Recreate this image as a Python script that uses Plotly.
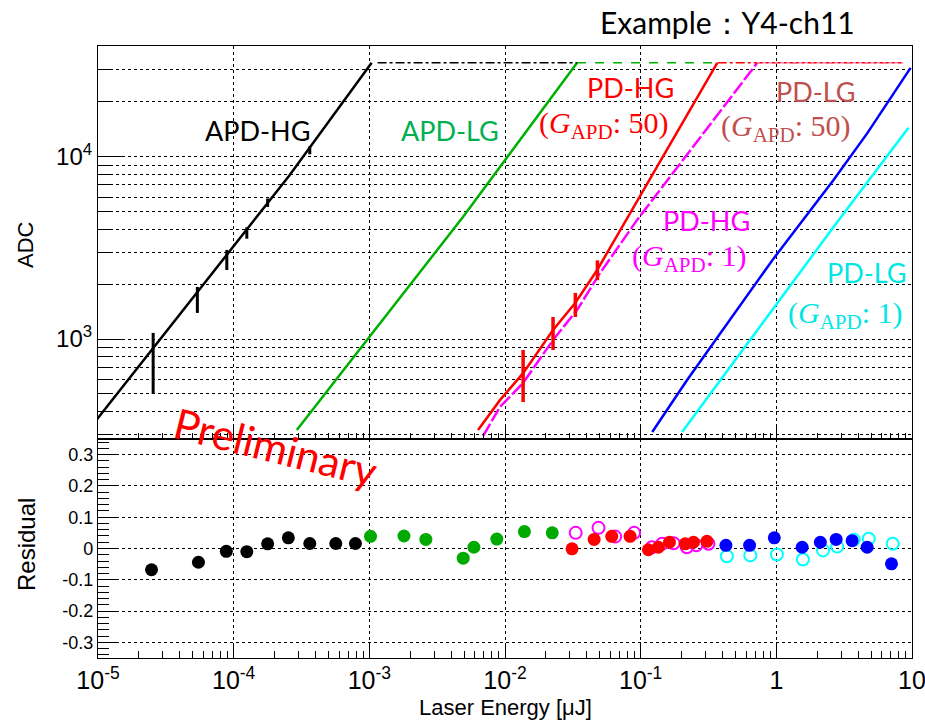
import plotly.graph_objects as go

# ---------------- data ----------------
# upper panel: ADC vs laser energy [uJ]
apd_hg_x = [9.75e-6, 2.59e-4, 1.04e-3]
apd_hg_y = [360, 7930, 32700]
apd_lg_x = [2.92e-4, 4.9e-3, 0.034]
apd_lg_y = [317, 4670, 32700]
pd_hg50_x = [6.33e-3, 9.18e-3, 1.36e-2, 2.26e-2, 3.29e-2, 4.78e-2, 8.81e-2, 0.186, 0.367]
pd_hg50_y = [317, 462, 650, 1120, 1575, 2390, 5240, 13650, 32700]
pd_hg1_x = [6.9e-3, 9.18e-3, 1.36e-2, 2.26e-2, 3.40e-2, 5.02e-2, 9.42e-2, 0.261, 0.724]
pd_hg1_y = [294, 424, 574, 988, 1443, 2300, 4500, 12100, 32700]
pd_lg50_x = [0.1217, 0.220, 0.95, 2.64, 4.70, 9.76]
pd_lg50_y = [309, 596, 2750, 7450, 13500, 30700]
pd_lg1_x = [0.202, 1.016, 2.64, 9.42]
pd_lg1_y = [309, 1575, 4110, 14400]

# vertical spread of the data clusters
apd_hg_cl_x = [2.55e-5, 5.4e-5, 8.9e-5, 1.25e-4, 1.78e-4, 3.64e-4]
apd_hg_cl_lo = [500, 1390, 2390, 3550, 5300, 10300]
apd_hg_cl_hi = [1080, 1930, 3080, 4100, 5900, 11400]
pd_hg50_cl_x = [1.36e-2, 2.26e-2, 3.3e-2, 4.8e-2]
pd_hg50_cl_lo = [451, 870, 1320, 2100]
pd_hg50_cl_hi = [870, 1320, 1790, 2700]

# saturated points (ADC overflow)
sat_adc = 32700
sat_black_x = [1.15e-3, 0.034]
sat_green_x = [0.034, 0.37]
sat_red_x = [0.37, 8.5]
sat_mag_x = [0.72, 8.5]

# lower panel: residuals
res_apd_hg_x = [2.48e-5, 5.5e-5, 8.83e-5, 1.25e-4, 1.78e-4, 2.53e-4, 3.64e-4, 5.66e-4, 7.9e-4]
res_apd_hg_y = [-0.068, -0.044, -0.009, -0.010, 0.015, 0.034, 0.016, 0.016, 0.016]
res_apd_lg_x = [1.02e-3, 1.80e-3, 2.61e-3, 4.92e-3, 5.9e-3, 8.7e-3, 1.39e-2, 2.23e-2]
res_apd_lg_y = [0.039, 0.040, 0.029, -0.031, 0.004, 0.030, 0.054, 0.050]
res_pd_hg50_x = [3.12e-2, 4.54e-2, 6.12e-2, 8.36e-2, 0.114, 0.135, 0.163, 0.213, 0.245, 0.308]
res_pd_hg50_y = [-0.001, 0.029, 0.039, 0.039, -0.004, 0.004, 0.020, 0.015, 0.020, 0.023]
res_pd_hg1_x = [3.32e-2, 4.89e-2, 6.49e-2, 8.95e-2, 0.121, 0.144, 0.175, 0.219, 0.257, 0.316]
res_pd_hg1_y = [0.050, 0.066, 0.038, 0.050, 0.004, 0.015, 0.017, 0.004, 0.010, 0.015]
res_pd_lg50_x = [0.425, 0.635, 0.966, 1.55, 2.11, 2.76, 3.62, 4.67, 7.06]
res_pd_lg50_y = [0.010, 0.010, 0.034, 0.004, 0.020, 0.029, 0.025, 0.004, -0.049]
res_pd_lg1_x = [0.432, 0.643, 1.01, 1.57, 2.21, 2.81, 3.72, 4.80, 7.21]
res_pd_lg1_y = [-0.025, -0.022, -0.019, -0.035, -0.006, 0.006, 0.028, 0.031, 0.015]

# ticks
x_decades = [1e-5, 1e-4, 1e-3, 1e-2, 1e-1, 1, 10]
x_ticktext = ["10<sup>-5</sup>", "10<sup>-4</sup>", "10<sup>-3</sup>", "10<sup>-2</sup>",
              "10<sup>-1</sup>", "1", "10"]
adc_ticks = [1e3, 1e4]
adc_ticktext = ["10<sup>3</sup>", "10<sup>4</sup>"]
res_ticks = [-0.3, -0.2, -0.1, 0, 0.1, 0.2, 0.3]
res_ticktext = ["-0.3", "-0.2", "-0.1", "0", "0.1", "0.2", "0.3"]

x_minor = [m * d for d in [1e-5, 1e-4, 1e-3, 1e-2, 1e-1, 1] for m in range(2, 10)]
adc_minor = [m * d for d in [100, 1000, 10000] for m in range(2, 10)]

# ---------------- figure ----------------
BLACK = "#000000"
GREEN_L = "#00b000"
RED = "#ff0000"
MAG = "#ff00ff"
BLUE = "#0000ff"
CYAN = "#00ffff"

fig = go.Figure()

def line(x, y, color, width=2.5, dash="solid", ax=("x", "y")):
    fig.add_trace(go.Scatter(x=x, y=y, mode="lines", line=dict(color=color, width=width, dash=dash),
                             xaxis=ax[0], yaxis=ax[1], showlegend=False, hoverinfo="skip"))

def clusters(xs, lo, hi, color, width):
    xx, yy = [], []
    for a, b, c in zip(xs, lo, hi):
        xx += [a, a, None]
        yy += [b, c, None]
    fig.add_trace(go.Scatter(x=xx, y=yy, mode="lines", line=dict(color=color, width=width),
                             showlegend=False, hoverinfo="skip"))

# upper panel
line(pd_lg1_x, pd_lg1_y, CYAN)
line(pd_lg50_x, pd_lg50_y, BLUE)
line(pd_hg1_x, pd_hg1_y, MAG, dash="14px,3px")
line(pd_hg50_x, pd_hg50_y, RED)
clusters(pd_hg50_cl_x, pd_hg50_cl_lo, pd_hg50_cl_hi, RED, 3.5)
line(apd_lg_x, apd_lg_y, GREEN_L)
line(apd_hg_x, apd_hg_y, BLACK)
clusters(apd_hg_cl_x, apd_hg_cl_lo, apd_hg_cl_hi, BLACK, 3)

line(sat_black_x, [sat_adc] * 2, BLACK, width=1.5, dash="dashdot")
line(sat_green_x, [sat_adc] * 2, GREEN_L, width=1.5, dash="dash")
line(sat_red_x, [sat_adc] * 2, RED, width=1.5, dash="dashdot")
line(sat_mag_x, [sat_adc] * 2, "#ff80c0", width=1.5, dash="dot")

# lower panel
def pts(x, y, color, open_=False):
    if open_:
        mk = dict(symbol="circle-open", size=12, color=color, line=dict(width=2, color=color))
    else:
        mk = dict(symbol="circle", size=13, color=color, line=dict(width=0))
    fig.add_trace(go.Scatter(x=x, y=y, mode="markers", marker=mk, xaxis="x2", yaxis="y2",
                             showlegend=False, hoverinfo="skip"))

pts(res_pd_lg1_x, res_pd_lg1_y, CYAN, True)
pts(res_pd_lg50_x, res_pd_lg50_y, BLUE)
pts(res_pd_hg1_x, res_pd_hg1_y, MAG, True)
pts(res_pd_hg50_x, res_pd_hg50_y, RED)
pts(res_apd_lg_x, res_apd_lg_y, "#00aa00")
pts(res_apd_hg_x, res_apd_hg_y, BLACK)

# ---------------- layout ----------------
L, R, T, B = 98, 912, 46, 658
SPLIT = 439
W, H = 925, 724
split_frac = (B - SPLIT) / (B - T)

def px(x):
    return (x - L) / (R - L)

def py(y):
    return (B - y) / (B - T)

grid = dict(showgrid=True, gridcolor="black", griddash="dot", gridwidth=1)
frame = dict(showline=True, mirror=True, linecolor="black", linewidth=1.2, zeroline=False,
             automargin=False)
TICKFONT = "Liberation Sans, Arial, sans-serif"

fig.update_layout(
    width=W, height=H,
    margin=dict(l=L, r=W - R, t=T, b=H - B, autoexpand=False),
    paper_bgcolor="white", plot_bgcolor="white",
    showlegend=False,
    xaxis=dict(type="log", range=[-5, 1], domain=[0, 1], anchor="y",
               tickmode="array", tickvals=x_decades, showticklabels=False,
               ticks="inside", ticklen=13, tickcolor="black", tickwidth=1,
               minor=dict(tickmode="array", tickvals=x_minor, ticks="inside", ticklen=6,
                          tickcolor="black", showgrid=False),
               **grid, **frame),
    yaxis=dict(type="log", range=[2.4515, 4.607], domain=[split_frac, 1], anchor="x",
               tickmode="array", tickvals=adc_ticks, ticktext=adc_ticktext,
               tickfont=dict(family=TICKFONT, size=24, color="black"),
               ticks="inside", ticklen=27, tickcolor="black", tickwidth=1.2,
               minor=dict(tickmode="array", tickvals=adc_minor, ticks="inside", ticklen=12,
                          tickcolor="black", showgrid=True, gridcolor="black", griddash="dot"),
               **grid, **frame),
    xaxis2=dict(type="log", range=[-5, 1], domain=[0, 1], anchor="y2", matches="x",
                tickmode="array", tickvals=x_decades, ticktext=x_ticktext,
                tickfont=dict(family=TICKFONT, size=25, color="black"),
                ticklabeloverflow="allow",
                ticks="inside", ticklen=13, tickcolor="black", tickwidth=1,
                minor=dict(tickmode="array", tickvals=x_minor, ticks="inside", ticklen=7,
                           tickcolor="black", showgrid=False),
                **grid, **frame),
    yaxis2=dict(range=[-0.35, 0.35], domain=[0, split_frac], anchor="x2",
                tickmode="array", tickvals=res_ticks, ticktext=res_ticktext,
                tickfont=dict(family=TICKFONT, size=18, color="black"),
                ticks="inside", ticklen=20, tickcolor="black", tickwidth=1.2,
                minor=dict(dtick=0.02, tick0=0, ticks="inside", ticklen=11,
                           tickcolor="black", showgrid=False),
                **grid, **frame),
)

ANN = "Lato, Open Sans, sans-serif"
SERIF = "Liberation Serif, DejaVu Serif, serif"

def note(text, x, y, color, size=27, family=ANN, angle=0):
    fig.add_annotation(text=text, x=px(x), y=py(y), xref="paper", yref="paper",
                       xanchor="center", yanchor="middle", showarrow=False,
                       textangle=angle, font=dict(family=family, size=size, color=color))

gapd50 = "(<i>G</i><sub>APD</sub>: 50)"
gapd1 = "(<i>G</i><sub>APD</sub>: 1)"

note("APD-HG", 257, 131, "#000000")
note("APD-LG", 450, 131, "#00b050")
note("PD-HG", 630, 88, "#ff0000")
note(gapd50, 604, 125, "#ff0000", size=30, family=SERIF)
note("PD-LG", 815, 92, "#c0504d")
note(gapd50, 786, 128, "#c0504d", size=30, family=SERIF)
note("PD-HG", 706, 220, "#ff00ff")
note(gapd1, 689, 258, "#ff00ff", size=30, family=SERIF)
note("PD-LG", 866, 272, "#00e5e5")
note(gapd1, 845, 315, "#00e5e5", size=30, family=SERIF)
note("Preliminary", 276, 447, "#ff0000", size=42, angle=14)
note("Example：Y4-ch11", 727, 22, "#000000", size=30)

note("ADC", 26, 245, "#000000", size=22, family=TICKFONT, angle=-90)
note("Residual", 26, 545, "#000000", size=24, family=TICKFONT, angle=-90)
note("Laser Energy [μJ]", 505, 707, "#000000", size=22, family=TICKFONT)

fig.write_html("out.html")
